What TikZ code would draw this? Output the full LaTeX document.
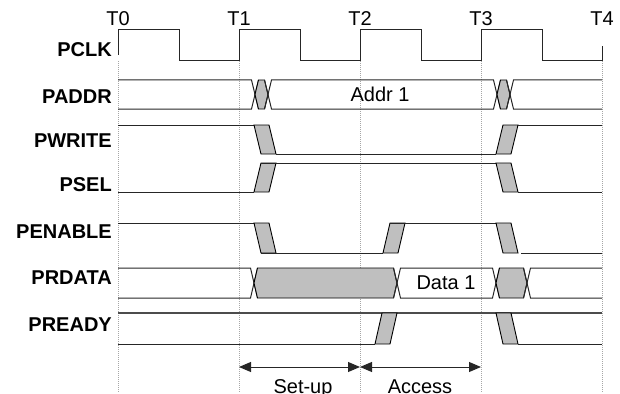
\documentclass[tikz,border=0pt]{standalone}
\usepackage{fontspec}
\setmainfont{Liberation Sans}
\usetikzlibrary{arrows.meta}
\begin{document}
\begin{tikzpicture}[x=1pt,y=-1pt,
  wave/.style={draw=black!85, line width=1pt, line join=miter},
  hiwave/.style={draw=black!70, line width=1.2pt},
  trans/.style={draw=black, fill=black!25, line width=0.9pt, line join=miter},
  gridline/.style={draw=black!35, line width=0.8pt, dash pattern=on 1pt off 1pt},
  siglabel/.style={anchor=base east, font=\fontsize{20}{24}\selectfont\bfseries, inner sep=0pt},
  tlabel/.style={anchor=base, font=\fontsize{20}{24}\selectfont, inner sep=0pt},
  span/.style={draw=black!85, line width=1pt, {Triangle[length=12pt,width=10pt]}-{Triangle[length=12pt,width=10pt]}}
]
\useasboundingbox (0,0) rectangle (620,393);

% time grid
\foreach \x/\n in {118/0,239/1,360/2,481/3,602/4}{
  \draw[gridline] (\x,61) -- (\x,393);
  \node[tlabel] (T\n) at (\x,26) {T\n};
}

% signal names
\node[siglabel] (lclk)  at (112,57)  {PCLK};
\node[siglabel] (laddr) at (112,103) {PADDR};
\node[siglabel] (lwr)   at (112,147) {PWRITE};
\node[siglabel] (lsel)  at (112,191) {PSEL};
\node[siglabel] (len)   at (112,238) {PENABLE};
\node[siglabel] (lrd)   at (112,284) {PRDATA};
\node[siglabel] (lrdy)  at (112,331) {PREADY};

% PCLK
\draw[wave] (118,55) -- (118,30) -- (179,30) -- (179,61) -- (239,61) -- (239,30)
  -- (300,30) -- (300,61) -- (360,61) -- (360,30) -- (421,30) -- (421,61)
  -- (481,61) -- (481,30) -- (542,30) -- (542,61) -- (602,61) -- (602,46);

% PADDR
\draw[wave] (118,80) -- (251.5,80) -- (258.5,109);
\draw[wave] (118,109) -- (251.5,109) -- (258.5,80);
\draw[trans] (255,94.5) -- (258.5,80) -- (264.5,80) -- (268,94.5) -- (264.5,109) -- (258.5,109) -- cycle;
\draw[wave] (264.5,80) -- (271.5,109) -- (493.5,109) -- (500.5,80);
\draw[wave] (264.5,109) -- (271.5,80) -- (493.5,80) -- (500.5,109);
\draw[trans] (497,94.5) -- (500.5,80) -- (506.5,80) -- (510,94.5) -- (506.5,109) -- (500.5,109) -- cycle;
\draw[wave] (506.5,80) -- (513.5,109) -- (602,109);
\draw[wave] (506.5,109) -- (513.5,80) -- (602,80);
\node[tlabel] (addr) at (380,102) {Addr 1};

% PWRITE
\draw[wave] (118,125) -- (254,125);
\draw[trans] (254,125) -- (269,125) -- (276,154) -- (261,154) -- cycle;
\draw[wave] (276,154) -- (496,154);
\draw[trans] (496,154) -- (511,154) -- (518,125) -- (503,125) -- cycle;
\draw[wave] (518,125) -- (602,125);

% PSEL
\draw[wave] (118,192) -- (254,192);
\draw[trans] (254,192) -- (269,192) -- (276,163) -- (261,163) -- cycle;
\draw[wave] (261,163) -- (511,163);
\draw[trans] (496,163) -- (511,163) -- (518,192) -- (503,192) -- cycle;
\draw[wave] (518,192) -- (602,192);

% PENABLE
\draw[wave] (118,223) -- (254,223);
\draw[trans] (254,223) -- (269,223) -- (276,253) -- (261,253) -- cycle;
\draw[wave] (261,253) -- (383,253);
\draw[trans] (383,253) -- (398,253) -- (405,223) -- (390,223) -- cycle;
\draw[wave] (390,223) -- (511,223);
\draw[trans] (496,223) -- (511,223) -- (518,253) -- (503,253) -- cycle;
\draw[wave] (521,253) -- (602,253);

% PRDATA
\draw[wave] (118,268) -- (250.5,268) -- (257.5,298);
\draw[wave] (118,298) -- (250.5,298) -- (257.5,268);
\draw[trans] (254,283) -- (257.5,268) -- (393.5,268) -- (397,283) -- (393.5,298) -- (257.5,298) -- cycle;
\draw[wave] (393.5,268) -- (400.5,298) -- (492.5,298) -- (499.5,268);
\draw[wave] (393.5,298) -- (400.5,268) -- (492.5,268) -- (499.5,298);
\draw[trans] (496,283) -- (499.5,268) -- (523.5,268) -- (527,283) -- (523.5,298) -- (499.5,298) -- cycle;
\draw[wave] (523.5,268) -- (530.5,298) -- (602,298);
\draw[wave] (523.5,298) -- (530.5,268) -- (602,268);
\node[tlabel] (data) at (446,289) {Data 1};

% PREADY
\draw[hiwave] (118,313) -- (602,313);
\draw[wave] (118,344) -- (375,344);
\draw[trans] (375,344) -- (390,344) -- (397,313) -- (382,313) -- cycle;
\draw[trans] (496,313) -- (511,313) -- (518,344) -- (503,344) -- cycle;
\draw[wave] (518,344) -- (602,344);

% phases
\coordinate (a1) at (239,367);
\coordinate (a2) at (360,367);
\coordinate (a3) at (481,367);
\draw[span] (a1) -- (a2);
\draw[span] (a2) -- (a3);
\node[tlabel] (setup) at (303,393) {Set-up};
\node[tlabel] (access) at (420,393) {Access};
\end{tikzpicture}
\end{document}
